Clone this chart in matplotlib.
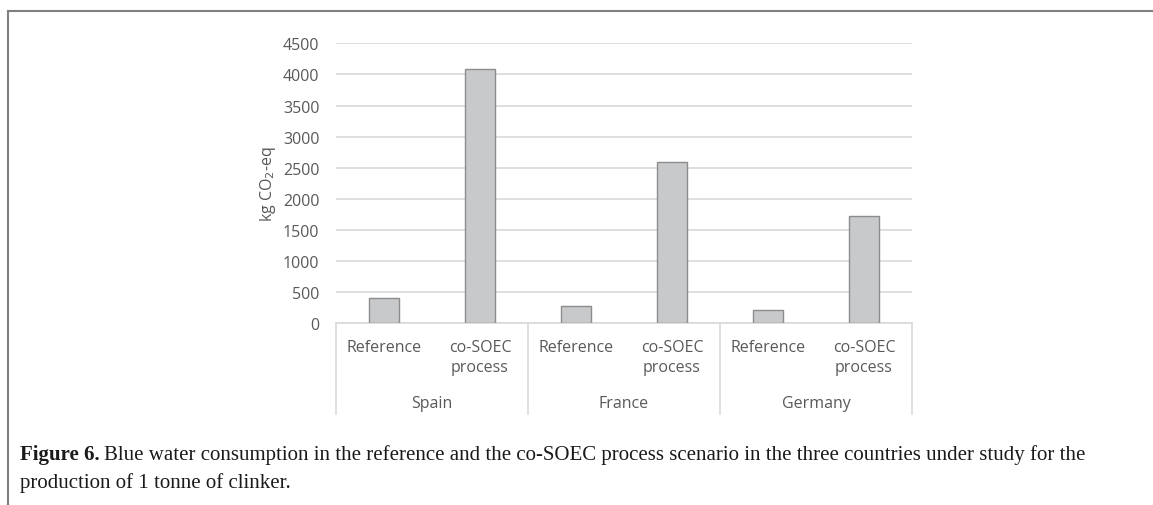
import matplotlib
matplotlib.use("Agg")
import matplotlib.pyplot as plt
from matplotlib.lines import Line2D
from matplotlib.transforms import blended_transform_factory

# Data
countries = ["Spain", "France", "Germany"]
scenarios = ["Reference", "co-SOEC\nprocess"]
values = [410, 4090, 280, 2600, 210, 1730]
y_ticks = [0, 500, 1000, 1500, 2000, 2500, 3000, 3500, 4000, 4500]

TEXT = "#595959"
GRID = "#d9d9d9"
FONT = "Open Sans"
FS = 11.5

fig = plt.figure(figsize=(11.53, 5.06), dpi=100)
fig.patch.set_facecolor("white")

# page frame: top and left rules
fig.add_artist(Line2D([8 / 1153, 1.0], [1 - 12 / 506, 1 - 12 / 506],
                      transform=fig.transFigure, color="#808080", lw=1.5))
fig.add_artist(Line2D([8 / 1153, 8 / 1153], [0.0, 1 - 12 / 506],
                      transform=fig.transFigure, color="#808080", lw=1.5))

ax = fig.add_axes([336 / 1153, 1 - 324.3 / 506, 576 / 1153, 280 / 506])

x = list(range(len(values)))
ax.bar(x, values, width=0.32, color="#c8c9cb", edgecolor="#8c8c8c",
       linewidth=1.0, zorder=3)

ax.set_xlim(-0.5, len(values) - 0.5)
ax.set_ylim(0, 4500)
ax.set_yticks(y_ticks)
ax.set_yticklabels([str(v) for v in y_ticks], fontsize=FS, color=TEXT,
                   fontfamily=FONT)
ax.tick_params(axis="y", length=0, pad=12)
ax.tick_params(axis="x", length=0, labelbottom=False)
ax.grid(axis="y", color=GRID, lw=1.2, zorder=0)
for s in ["top", "right", "left"]:
    ax.spines[s].set_visible(False)
ax.spines["bottom"].set_color(GRID)
ax.spines["bottom"].set_linewidth(1.2)

ax.set_ylabel("kg CO$_2$-eq", fontsize=FS, color=TEXT, fontfamily=FONT)
ax.yaxis.set_label_coords(-0.101, 0.5)

# multi-level category axis
tr = blended_transform_factory(ax.transData, ax.transAxes)
for i, v in enumerate(values):
    ax.text(i, -0.055, scenarios[i % 2], transform=tr, ha="center", va="top",
            fontsize=FS, color=TEXT, fontfamily=FONT, linespacing=1.4)
for g, c in enumerate(countries):
    ax.text(2 * g + 0.5, -0.283, c, transform=tr, ha="center", va="center",
            fontsize=FS, color=TEXT, fontfamily=FONT)
for b in [-0.5, 1.5, 3.5, 5.5]:
    ax.add_line(Line2D([b, b], [0, -0.325], transform=tr, color=GRID,
                       lw=1.2, clip_on=False))

# caption
CAP_FS = 15
x0 = 20 / 1153
y1 = 1 - 455 / 506
y2 = 1 - 483 / 506
head = fig.text(x0, y1, "Figure 6.", fontsize=CAP_FS, family="Liberation Serif",
                weight="bold", va="center", ha="left", color="#1a1a1a")
fig.canvas.draw()
bb = head.get_window_extent(renderer=fig.canvas.get_renderer())
fig.text((bb.x1 + 4) / fig.bbox.width, y1,
         "Blue water consumption in the reference and the co-SOEC process scenario in the three countries under study for the",
         fontsize=CAP_FS, family="Liberation Serif", va="center", ha="left",
         color="#1a1a1a")
fig.text(x0, y2, "production of 1 tonne of clinker.",
         fontsize=CAP_FS, family="Liberation Serif", va="center", ha="left",
         color="#1a1a1a")

fig.savefig("out.png", dpi=100, facecolor="white")
